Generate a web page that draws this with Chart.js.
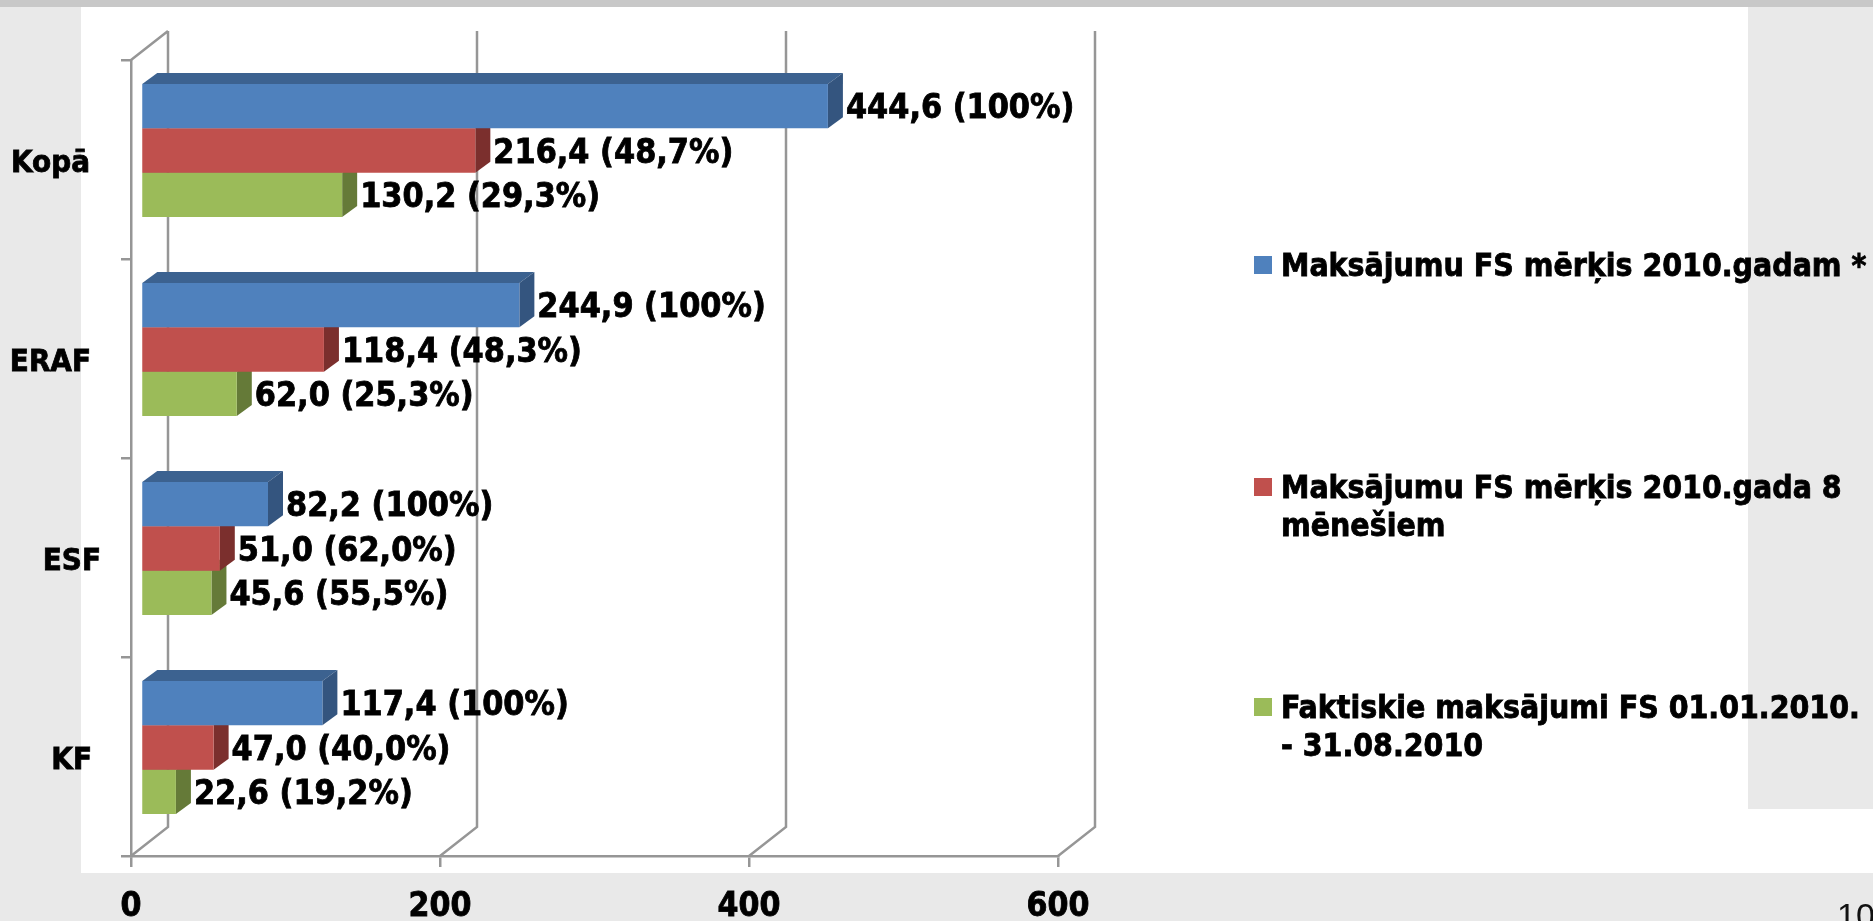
<!DOCTYPE html>
<html lang="lv">
<head>
<meta charset="UTF-8">
<title>Maksājumi FS</title>
<script src="https://cdn.jsdelivr.net/npm/chart.js@4"></script>
<style>
  html, body { margin: 0; padding: 0; width: 1873px; height: 921px; overflow: hidden; background: #e9e9e9; }
  .block { position: absolute; }
  #topBand { left: 0; top: 0; width: 1873px; height: 7px; background: #c8c8c8; }
  #whiteMain { left: 81px; top: 7px; width: 1667px; height: 866px; background: #fff; }
  #whiteStrip { left: 1748px; top: 809px; width: 125px; height: 64px; background: #fff; }
  #pageNo { position: absolute; left: 1837px; top: 898px; font: 34px "Liberation Sans"; color: #111; line-height: 34px; }
  canvas { position: absolute; left: 0; top: 0; }
</style>
</head>
<body>
<div class="block" id="topBand"></div>
<div class="block" id="whiteMain"></div>
<div class="block" id="whiteStrip"></div>
<canvas id="chart" width="1873" height="921"></canvas>
<div id="pageNo">10</div>
<script>
const categories = ["Kopā", "ERAF", "ESF", "KF"]
const targetYear = [444.6, 244.9, 82.2, 117.4]
const target8Months = [216.4, 118.4, 51.0, 47.0]
const actual = [130.2, 62.0, 45.6, 22.6]
const targetYearLabels = ["444,6 (100%)", "244,9 (100%)", "82,2 (100%)", "117,4 (100%)"]
const target8MonthsLabels = ["216,4 (48,7%)", "118,4 (48,3%)", "51,0 (62,0%)", "47,0 (40,0%)"]
const actualLabels = ["130,2 (29,3%)", "62,0 (25,3%)", "45,6 (55,5%)", "22,6 (19,2%)"]
const legendLines = [
  ["Maksājumu FS mērķis 2010.gadam *"],
  ["Maksājumu FS mērķis 2010.gada 8", "mēnešiem"],
  ["Faktiskie maksājumi FS 01.01.2010.", "- 31.08.2010"],
]
const xTicks = [0, 200, 400, 600]

const FONT = '"DejaVu Sans Condensed", "DejaVu Sans"'
const GRID = "#969696"
const GRID_WIDTH = 2.5
const TEXT_STROKE = 0.8
// bars sit a bit off the axes, the back wall further still
const BAR_SHIFT = { x: 10, y: -9 }
const BAR_DEPTH = { x: 15, y: -11 }
const WALL_DEPTH = { x: 37, y: -29 }
const CATEGORY_RIGHT = [90, 91, 101, 92]

const sideColors = ["#34557f", "#7b2f2d", "#657a38"]
const topColors = ["#3c6290", "#7b2f2d", "#657a38"]
const barLabels = [targetYearLabels, target8MonthsLabels, actualLabels]

function face(ctx, color, pts) {
  ctx.fillStyle = color
  ctx.beginPath()
  pts.forEach((p, i) => (i ? ctx.lineTo(p[0], p[1]) : ctx.moveTo(p[0], p[1])))
  ctx.closePath()
  ctx.fill()
}

function boldText(ctx, text, x, y) {
  ctx.fillText(text, x, y)
  ctx.strokeText(text, x, y)
}

const depthPlugin = {
  id: "depth",
  // back wall first, everything else goes over it
  beforeDatasetsDraw(chart) {
    const { ctx, chartArea: a, scales } = chart
    ctx.save()
    ctx.strokeStyle = GRID
    ctx.lineWidth = GRID_WIDTH
    ctx.beginPath()
    ctx.moveTo(a.left, a.top)
    ctx.lineTo(a.left + WALL_DEPTH.x, a.top + WALL_DEPTH.y)
    for (const t of xTicks) {
      const x = scales.x.getPixelForValue(t)
      ctx.moveTo(x, a.bottom)
      ctx.lineTo(x + WALL_DEPTH.x, a.bottom + WALL_DEPTH.y)
      ctx.lineTo(x + WALL_DEPTH.x, a.top + WALL_DEPTH.y)
    }
    ctx.stroke()
    ctx.restore()
    ctx.save()
    ctx.translate(BAR_SHIFT.x, BAR_SHIFT.y)
  },
  beforeDatasetDraw(chart, args) {
    const { ctx } = chart
    args.meta.data.forEach((bar) => {
      const p = bar.getProps(["x", "y", "base", "height"], true)
      const top = p.y - p.height / 2
      const bottom = p.y + p.height / 2
      const dx = BAR_DEPTH.x
      const dy = BAR_DEPTH.y
      face(ctx, topColors[args.index], [[p.base, top], [p.x, top], [p.x + dx, top + dy], [p.base + dx, top + dy]])
      face(ctx, sideColors[args.index], [[p.x, top], [p.x + dx, top + dy], [p.x + dx, bottom + dy], [p.x, bottom]])
    })
  },
  afterDatasetsDraw(chart) {
    chart.ctx.restore()
  },
  afterDraw(chart) {
    const { ctx, scales } = chart
    ctx.save()
    ctx.fillStyle = "#000"
    ctx.strokeStyle = "#000"
    ctx.lineWidth = TEXT_STROKE
    // value labels
    ctx.font = "bold 33.8px " + FONT
    ctx.textAlign = "left"
    ctx.textBaseline = "alphabetic"
    chart.data.datasets.forEach((ds, i) => {
      chart.getDatasetMeta(i).data.forEach((bar, j) => {
        const x = bar.x + BAR_SHIFT.x + BAR_DEPTH.x + 3
        const y = bar.y + BAR_SHIFT.y + 12
        boldText(ctx, barLabels[i][j], x, y)
      })
    })
    // category labels do not line up on the right in the original
    ctx.font = "bold 31px " + FONT
    ctx.textAlign = "right"
    categories.forEach((c, i) => {
      boldText(ctx, c, CATEGORY_RIGHT[i], scales.y.getPixelForTick(i) + 12)
    })
    // legend
    ctx.textAlign = "left"
    ctx.font = "bold 31.7px " + FONT
    const baselines = [276, 498, 718]
    legendLines.forEach((lines, i) => {
      ctx.fillStyle = chart.data.datasets[i].backgroundColor
      ctx.fillRect(1254, baselines[i] - 20, 18, 18)
      ctx.fillStyle = "#000"
      lines.forEach((line, k) => boldText(ctx, line, 1281, baselines[i] + k * 38))
    })
    ctx.restore()
  },
}

new Chart(document.getElementById("chart"), {
  type: "bar",
  data: {
    labels: categories,
    datasets: [
      { label: legendLines[0].join(" "), data: targetYear, backgroundColor: "#4f81bd" },
      { label: legendLines[1].join(" "), data: target8Months, backgroundColor: "#c0504d" },
      { label: legendLines[2].join(" "), data: actual, backgroundColor: "#9bbb59" },
    ],
  },
  options: {
    indexAxis: "y",
    responsive: false,
    animation: false,
    categoryPercentage: 0.668,
    barPercentage: 1,
    clip: false,
    layout: { padding: { left: 0, right: 815, top: 60, bottom: 0 } },
    plugins: { legend: { display: false }, tooltip: { enabled: false } },
    scales: {
      x: {
        min: 0,
        max: 600,
        afterBuildTicks: (s) => { s.ticks = xTicks.map((value) => ({ value })) },
        afterFit: (s) => { s.height = 65 },
        grid: { drawOnChartArea: false, color: GRID, lineWidth: GRID_WIDTH, tickLength: 11 },
        border: { color: GRID, width: GRID_WIDTH },
        ticks: {
          color: "#000",
          font: { family: FONT, size: 33.5, weight: "bold" },
          textStrokeColor: "#000",
          textStrokeWidth: TEXT_STROKE,
          padding: 20,
          maxRotation: 0,
        },
      },
      y: {
        afterFit: (s) => { s.width = 131 },
        grid: { drawOnChartArea: false, color: GRID, lineWidth: GRID_WIDTH, tickLength: 10, offset: true },
        border: { color: GRID, width: GRID_WIDTH },
        ticks: { display: false },
      },
    },
  },
  plugins: [depthPlugin],
})
</script>
</body>
</html>
